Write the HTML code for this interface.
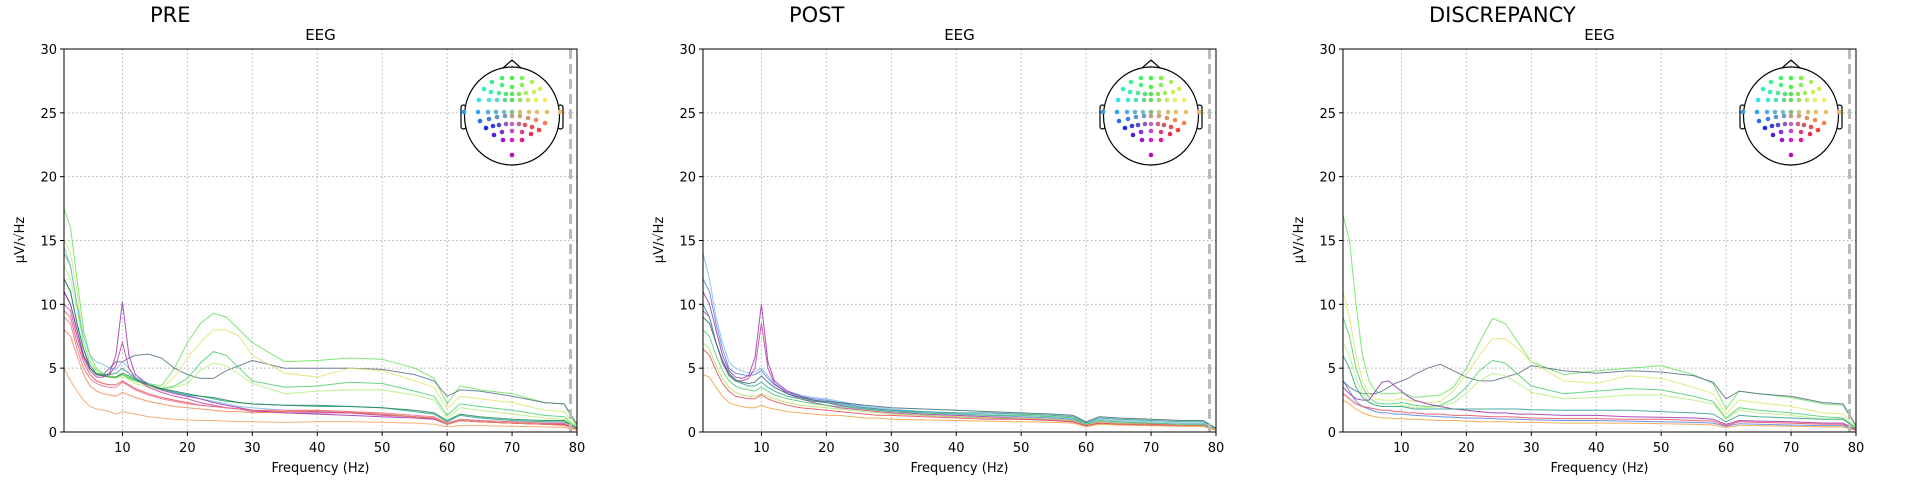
<!DOCTYPE html>
<html><head><meta charset="utf-8">
<style>
html,body{margin:0;padding:0;background:#fff;}
svg{display:block;font-family:"DejaVu Sans","Liberation Sans",sans-serif;}
</style></head>
<body>
<svg id="fig" width="1920" height="480" viewBox="0 0 1920 480"></svg>
<script>
const freqs=[1,2,3,4,5,6,7,8,9,10,11,12,14,16,18,20,22,24,26,28,30,35,40,45,50,55,58,60,62,65,70,75,78,80];
const xTicks=[10,20,30,40,50,60,70,80];
const yTicks=[0,5,10,15,20,25,30];
const panelTitles=["PRE","POST","DISCREPANCY"];
const preColors=["#66e35a","#5a6e8a","#d9e86a","#4ccf70","#b5f07a","#7ab8e8","#9a30b0","#c040a0","#2aa090","#1e8a50","#e84a5a","#f08a50","#f5a060","#f07090"];
const preSeries=[
[17.5,16,12,8,6,5,4.6,4.4,4.3,4.5,4.3,4,3.8,3.6,5,7,8.5,9.3,9,8,7,5.5,5.6,5.8,5.7,5,4.2,2.2,3.6,3.3,3,2.3,2.2,0.4],
[11,10,8,6,5,4.5,4.5,5,5.5,5.5,5.8,6,6.1,5.8,5,4.5,4.2,4.2,4.8,5.2,5.6,5,5,5,4.9,4.5,4,2.8,3.3,3.2,2.8,2.3,2.2,0.6],
[15,14,11,7,5.5,4.8,4.5,4.4,4.3,4.5,4.2,4,3.6,3.4,4.3,5.8,7,8,8,7.5,6,4.6,4.3,5,4.8,4,3.5,1.8,2.8,2.6,2.3,1.7,1.6,0.3],
[14,13,10,7,5.5,4.8,4.5,4.3,4.3,4.5,4.2,4,3.7,3.4,3.6,4.2,5.4,6.3,6,5,4,3.5,3.6,3.9,3.8,3.2,2.8,1.3,2.2,2,1.7,1.3,1.2,0.3],
[13,12,9.5,7,5.5,4.8,4.5,4.3,4.2,4.4,4.1,3.8,3.5,3.3,3.5,3.8,4.8,5.4,5.2,4.5,3.8,3,3.2,3.3,3.3,2.9,2.5,1.1,1.9,1.7,1.4,1.1,1,0.3],
[14.5,13,10,7.5,6,5.5,5.3,5,4.9,5.5,5,4.3,3.8,3.4,3.1,2.9,2.6,2.4,2.2,2,1.9,1.7,1.6,1.5,1.4,1.2,1.1,0.7,1,0.9,0.8,0.7,0.7,0.2],
[11,10,8,6,5,4.5,4.4,4.6,6,10.2,6,4.5,3.7,3.3,3,2.8,2.6,2.3,2.1,1.9,1.7,1.5,1.4,1.3,1.2,1.1,1,0.6,0.9,0.8,0.7,0.6,0.6,0.2],
[10,9.5,7.5,5.8,4.8,4.3,4.3,4.5,5.2,7,5,4.2,3.5,3.1,2.8,2.6,2.3,2.1,1.9,1.8,1.6,1.5,1.5,1.5,1.3,1.2,1,0.6,0.9,0.8,0.7,0.6,0.6,0.2],
[12,11,8.5,6.5,5.2,4.6,4.5,4.5,4.6,5,4.6,4.2,3.7,3.4,3.1,2.9,2.8,2.6,2.4,2.3,2.2,2.1,2,2,1.9,1.6,1.4,0.8,1.3,1.1,0.9,0.8,0.8,0.3],
[12,11,8.5,6.5,5,4.5,4.4,4.3,4.3,4.6,4.4,4.1,3.7,3.4,3.2,3,2.8,2.7,2.5,2.3,2.2,2.1,2.1,2,1.9,1.7,1.5,0.9,1.4,1.2,1,0.9,0.9,0.3],
[9.5,9,7,5.5,4.5,4,3.8,3.7,3.7,4,3.7,3.4,3,2.7,2.5,2.3,2.1,2,1.9,1.8,1.7,1.6,1.6,1.5,1.4,1.2,1.1,0.6,0.9,0.8,0.7,0.6,0.6,0.2],
[8,7.5,6,4.5,3.6,3.2,3,2.9,2.8,3.1,2.9,2.7,2.4,2.2,2,1.9,1.8,1.7,1.6,1.6,1.5,1.6,1.7,1.6,1.4,1.2,1.1,0.6,0.9,0.8,0.7,0.6,0.5,0.2],
[5,4,3.2,2.5,2,1.8,1.7,1.6,1.4,1.6,1.5,1.4,1.2,1.1,1,0.95,0.9,0.9,0.85,0.8,0.8,0.75,0.8,0.8,0.75,0.7,0.6,0.4,0.5,0.5,0.45,0.4,0.35,0.15],
[9,8.5,6.5,5,4.2,3.8,3.6,3.5,3.5,3.9,3.6,3.3,2.9,2.6,2.4,2.2,2.1,2,1.9,1.8,1.7,1.7,1.7,1.6,1.5,1.3,1.2,0.7,1,0.9,0.8,0.7,0.7,0.2]];
const postColors=["#80b8f0","#5a80e0","#9a30b0","#c040a0","#2aa090","#4ccf70","#b5e060","#e84a5a","#f0a040","#3a6a70"];
const postSeries=[
[14,12,9,7,5.5,5,4.8,4.6,4.7,5,4.4,3.8,3.2,2.9,2.7,2.6,2.4,2.2,2,1.9,1.8,1.6,1.5,1.4,1.3,1.2,1.1,0.7,1,0.9,0.8,0.7,0.7,0.2],
[12,11,8.5,6.5,5,4.6,4.5,4.4,4.5,4.8,4.2,3.7,3.1,2.8,2.6,2.5,2.3,2.1,1.9,1.8,1.7,1.5,1.4,1.3,1.2,1.1,1,0.6,0.9,0.8,0.7,0.6,0.6,0.2],
[11,10,8,6,4.8,4.3,4.2,4.4,5.8,10,5.5,4,3.2,2.8,2.5,2.3,2.1,1.9,1.8,1.7,1.6,1.4,1.3,1.2,1.1,1,0.9,0.5,0.8,0.7,0.6,0.5,0.5,0.2],
[9.5,9,7,5.4,4.4,4,4,4.2,5,8.5,5,3.8,3,2.6,2.3,2.1,1.9,1.8,1.7,1.6,1.5,1.3,1.2,1.1,1,0.9,0.8,0.5,0.7,0.6,0.5,0.5,0.5,0.15],
[10,9,7,5.5,4.5,4,3.8,3.6,3.6,3.9,3.5,3.2,2.8,2.6,2.4,2.3,2.2,2,1.9,1.8,1.7,1.6,1.5,1.5,1.4,1.3,1.2,0.7,1.1,1,0.9,0.8,0.8,0.3],
[8,7.5,6,4.8,4,3.6,3.4,3.3,3.2,3.5,3.2,2.9,2.6,2.4,2.2,2.1,2,1.9,1.8,1.7,1.6,1.5,1.4,1.3,1.3,1.2,1.1,0.6,0.9,0.8,0.7,0.6,0.6,0.2],
[7,6.5,5.2,4.2,3.5,3.1,2.9,2.8,2.8,3,2.8,2.6,2.3,2.1,2,1.9,1.8,1.7,1.6,1.5,1.4,1.3,1.2,1.1,1.1,1,0.9,0.5,0.8,0.7,0.6,0.5,0.5,0.2],
[6.5,6,4.8,3.8,3.2,2.8,2.7,2.6,2.6,2.9,2.6,2.4,2.1,1.9,1.8,1.7,1.6,1.5,1.4,1.3,1.3,1.2,1.1,1,1,0.9,0.8,0.5,0.7,0.6,0.6,0.5,0.5,0.15],
[4.5,4.3,3.5,2.8,2.3,2.1,2,1.9,1.9,2.1,1.9,1.8,1.6,1.5,1.4,1.3,1.3,1.2,1.1,1.1,1,0.95,0.9,0.85,0.8,0.75,0.7,0.4,0.6,0.55,0.5,0.45,0.45,0.15],
[9,8.5,7,5.6,4.6,4.1,3.9,3.8,3.9,4.4,3.9,3.5,3,2.7,2.5,2.4,2.3,2.2,2.1,2,1.9,1.8,1.7,1.6,1.5,1.4,1.3,0.8,1.2,1.1,1,0.9,0.9,0.3]];
const discColors=["#66e35a","#5a6e8a","#d9e86a","#4ccf70","#b5f07a","#5a80e0","#9a30b0","#2aa090","#e84a5a","#f0a040"];
const discSeries=[
[17,15,10,6,4,3.2,3,3,3,3.1,2.9,2.7,2.8,2.9,3.5,5,7,8.9,8.5,7,5.5,4.5,4.8,5,5.2,4.5,3.8,1.8,3.2,3,2.7,2.2,2.1,0.4],
[4,3.5,3.2,3,3,3,3.2,3.5,3.8,4,4.2,4.5,5,5.3,4.8,4.3,4,4,4.3,4.6,5.2,4.8,4.6,4.8,4.7,4.4,3.9,2.6,3.2,3,2.8,2.3,2.2,0.5],
[11,9,6,4,3,2.6,2.5,2.5,2.5,2.6,2.5,2.4,2.3,2.4,3.2,4.5,6,7.3,7.3,6.5,5.5,4,3.8,4.4,4.2,3.5,3,1.4,2.5,2.3,2,1.5,1.4,0.3],
[9,7.5,5,3.5,2.7,2.3,2.2,2.2,2.2,2.3,2.2,2.1,2,2.1,2.6,3.5,4.8,5.6,5.4,4.5,3.6,3,3.2,3.4,3.3,2.8,2.4,1.1,1.9,1.7,1.5,1.2,1.1,0.3],
[7,6,4.2,3,2.4,2.1,2,2,2,2.1,2,1.9,1.9,2,2.3,3,4,4.6,4.4,3.8,3.1,2.6,2.7,2.9,2.9,2.5,2.2,1,1.7,1.5,1.3,1,1,0.25],
[4,3.2,2.4,2,1.8,1.6,1.5,1.5,1.4,1.4,1.35,1.3,1.25,1.2,1.15,1.1,1.1,1.05,1,1,0.95,0.9,0.9,0.85,0.8,0.75,0.7,0.45,0.65,0.6,0.55,0.5,0.5,0.15],
[3.5,3,2.6,2.5,2.5,3.2,3.9,4,3.6,3.2,2.8,2.5,2.2,2,1.8,1.7,1.6,1.5,1.5,1.4,1.4,1.3,1.3,1.2,1.15,1.1,1,0.6,0.9,0.85,0.8,0.7,0.7,0.2],
[6,5,3.5,2.7,2.3,2.1,2,2,2,2,1.9,1.8,1.8,1.8,1.8,1.8,1.8,1.8,1.8,1.8,1.75,1.7,1.7,1.7,1.6,1.5,1.4,0.8,1.3,1.2,1.1,1,1,0.3],
[3,2.6,2.2,2,1.9,1.8,1.7,1.7,1.6,1.6,1.5,1.5,1.4,1.4,1.3,1.3,1.25,1.2,1.2,1.15,1.1,1.05,1.05,1,1,0.9,0.85,0.5,0.8,0.75,0.7,0.6,0.6,0.2],
[2.5,2.2,1.8,1.5,1.3,1.2,1.1,1.1,1.05,1.05,1,1,0.95,0.9,0.9,0.85,0.8,0.8,0.8,0.75,0.75,0.7,0.7,0.7,0.65,0.6,0.55,0.35,0.5,0.5,0.45,0.4,0.4,0.12]];
const allSeries=[preSeries,postSeries,discSeries];
const allColors=[preColors,postColors,discColors];

const NS="http://www.w3.org/2000/svg";
const svg=document.getElementById('fig');
function mk(tag,attrs,parent){const e=document.createElementNS(NS,tag);for(const k in attrs)e.setAttribute(k,attrs[k]);(parent||svg).appendChild(e);return e;}
const panelLefts=[64,703,1343];
const PW=513, TOP=49, BOT=432, XMIN=1, XMAX=80, YMAX=30;
const sensors=[[-10,-38],[0,-38],[10,-38],[-20,-34],[20,-34],[-10,-31],[0,-29],[10,-31],[-28,-27],[28,-27],[-21,-24],[-13,-23],[-6,-22],[0,-22],[7,-22],[14,-23],[22,-24],[-33,-16],[-23,-16],[-15,-16],[-7,-16],[0,-16],[8,-16],[16,-16],[24,-16],[33,-16],[-48,-4],[-34,-4],[-24,-4],[-16,-4],[-8,-4],[0,-4],[8,-4],[17,-4],[25,-4],[35,-4],[48,-4],[-32,5],[-23,3],[-15,1],[-7,0],[0,0],[8,0],[16,2],[24,4],[33,7],[-26,12],[-19,10],[-13,9],[-6,8],[0,8],[7,8],[13,9],[20,11],[27,14],[-18,19],[-10,16],[0,15],[10,16],[19,18],[-9,24],[0,24],[10,24],[0,39]];

panelLefts.forEach((L,p)=>{
  const R=L+PW;
  const sx=f=>L+(f-XMIN)/(XMAX-XMIN)*PW;
  const sy=v=>BOT-v/YMAX*(BOT-TOP);
  const g=mk('g',{});
  
  
  const cx=L+PW/2;
  const t=mk('text',{x:L+86,y:22,'font-size':21,'text-anchor':'start',fill:'#000'},g);
  t.textContent=panelTitles[p];
  
  
  const st=mk('text',{x:cx,y:40,'font-size':15,'text-anchor':'middle',fill:'#000'},g);
  st.textContent='EEG';
  
  
  xTicks.forEach(v=>{
    const gl=mk('line',{x1:sx(v),x2:sx(v),y1:TOP,y2:BOT,stroke:'#b0b0b0','stroke-width':1,'stroke-dasharray':'1.5,2.5'},g);
    
    
    mk('line',{x1:sx(v),x2:sx(v),y1:BOT,y2:BOT+4,stroke:'#000'},g);
    const tl=mk('text',{x:sx(v),y:BOT+20,'font-size':13,'text-anchor':'middle'},g);
    tl.textContent=v;
    
    
  });
  yTicks.forEach(v=>{
    const gl=mk('line',{x1:L,x2:R,y1:sy(v),y2:sy(v),stroke:'#b0b0b0','stroke-width':1,'stroke-dasharray':'1.5,2.5'},g);
    
    
    mk('line',{x1:L-4,x2:L,y1:sy(v),y2:sy(v),stroke:'#000'},g);
    const tl=mk('text',{x:L-7,y:sy(v)+5,'font-size':13,'text-anchor':'end'},g);
    tl.textContent=v;
    
    
  });
  const ser=allSeries[p], cols=allColors[p];
  ser.forEach((vals,i)=>{
    const d=vals.map((v,k)=>(k?'L':'M')+sx(freqs[k]).toFixed(1)+','+sy(v).toFixed(1)).join('');
    const pl=mk('path',{d:d,fill:'none',stroke:cols[i],'stroke-width':1,'stroke-opacity':0.85},g);
    
    
  });
  const dl=mk('line',{x1:sx(79),x2:sx(79),y1:TOP,y2:BOT,stroke:'#bbbbbb','stroke-width':3,'stroke-dasharray':'10,5'},g);
  
  
  const fr=mk('rect',{x:L,y:TOP,width:PW,height:BOT-TOP,fill:'none',stroke:'#000','stroke-width':1},g);
  
  
  const xl=mk('text',{x:cx,y:472,'font-size':13,'text-anchor':'middle'},g);
  xl.textContent='Frequency (Hz)';
  
  
  const yl=mk('text',{x:0,y:0,'font-size':13,'text-anchor':'middle',transform:`translate(${L-40},240) rotate(-90)`},g);
  yl.textContent='µV/√Hz';
  
  
  const hx=L+448, hy=116;
  const head=mk('g',{},g);
  
  
  mk('path',{d:`M${hx-9},${hy-48} L${hx},${hy-56} L${hx+9},${hy-48}`,fill:'none',stroke:'#000','stroke-width':1.2},head);
  mk('rect',{x:hx-51,y:hy-11,width:5,height:24,rx:2.5,fill:'none',stroke:'#000','stroke-width':1.2},head);
  mk('rect',{x:hx+46,y:hy-11,width:5,height:24,rx:2.5,fill:'none',stroke:'#000','stroke-width':1.2},head);
  mk('ellipse',{cx:hx,cy:hy,rx:47.5,ry:49,fill:'#fff',stroke:'#000','stroke-width':1.2},head);
  sensors.forEach(s=>{
    const ang=Math.atan2(s[1],s[0])*180/Math.PI;
    const h=((30-ang)%360+360)%360;
    const r=Math.hypot(s[0],s[1]);
    const sat=Math.min(85,25+r*2);
    const light=Math.max(25,Math.min(72,62+s[0]*0.15-Math.max(0,s[1])*0.6));
    const c=mk('circle',{cx:hx+s[0],cy:hy+s[1],r:2.3,fill:`hsl(${h},${sat}%,${light}%)`},head);
    
    
  });
});
</script>
</body></html>
